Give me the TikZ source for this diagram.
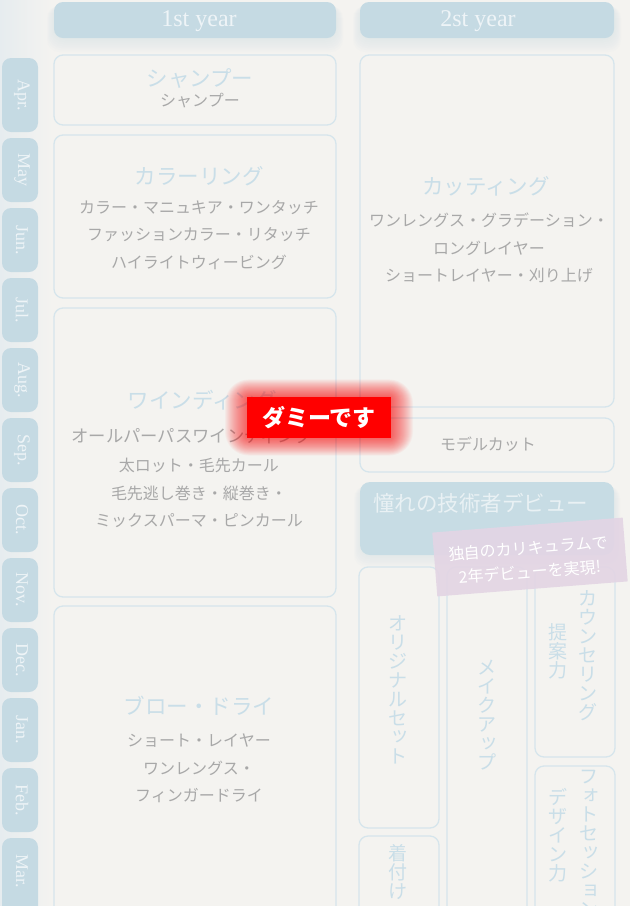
\documentclass[tikz,border=0pt]{standalone}
\usepackage{fontspec}
\setmainfont{Liberation Serif}
\newfontfamily\jp{Noto Sans CJK JP}
\newcommand\smk[1]{\hspace*{0.2em}\raisebox{0.12em}[0pt][0pt]{#1}\hspace*{-0.2em}}
\definecolor{bg}{HTML}{F4F3F0}
\definecolor{band}{HTML}{E6ECEF}
\definecolor{boxline}{HTML}{D6E5EC}
\definecolor{headfill}{HTML}{C5DAE3}
\definecolor{headtext}{HTML}{EEF4F7}
\definecolor{bluetext}{HTML}{C9DEE8}
\definecolor{graytext}{HTML}{A8A8A8}
\definecolor{debutfill}{HTML}{C7DCE4}
\definecolor{debuttext}{HTML}{E9F1F4}
\definecolor{pinkfill}{HTML}{E3D5E4}
\tikzset{
  panel/.style={draw=boxline, line width=1.3pt, rounded corners=9pt, fill=bg},
  headbox/.style={fill=headfill, rounded corners=9pt},
  tabbox/.style={fill=headfill, rounded corners=9pt},
  headlabel/.style={font=\fontsize{24}{24}\selectfont, text=headtext, inner sep=0pt},
  monlabel/.style={font=\fontsize{18}{18}\selectfont, text=headtext, rotate=-90, inner sep=0pt},
  title/.style={font=\jp\fontsize{21.5}{21.5}\selectfont, text=bluetext, inner sep=0pt},
  body/.style={font=\jp\fontsize{16}{27.5}\selectfont, text=graytext, align=center, inner sep=0pt},
  vtext/.style={font=\jp\fontsize{19}{19}\selectfont, text=bluetext, align=center, anchor=north, inner sep=0pt},
}
\begin{document}
\begin{tikzpicture}[x=1pt,y=-1pt]
\path[use as bounding box] (0,0) rectangle (630,906);
\clip (0,0) rectangle (630,906);
\fill[bg] (0,0) rectangle (630,906);
\shade[left color=band, right color=bg] (0,0) rectangle (52,906);

% header soft glow
\foreach \r in {2,4,...,14}{
  \fill[headfill, opacity=0.05, rounded corners=12pt] ({54-\r/2},{6}) rectangle ({336+\r/2},{38+\r});
  \fill[headfill, opacity=0.05, rounded corners=12pt] ({360-\r/2},{6}) rectangle ({614+\r/2},{38+\r});
}
% headers
\fill[headbox] (54,2) rectangle (336,38);
\node[headlabel] (year1) at (199,21) {1st year};
\fill[headbox] (360,2) rectangle (614,38);
\node[headlabel] (year2) at (478,21) {2st year};

% month tabs
\foreach \m/\ya/\yb [count=\i] in {Apr./58/132, May/138/202, Jun./208/272, Jul./278/342, Aug./348/412, Sep./418/482, Oct./488/552, Nov./558/622, Dec./628/692, Jan./698/762, Feb./768/832, Mar./838/930}{
  \fill[tabbox] (2,\ya) rectangle (38,\yb);
  \node[monlabel] (mon\i) at (22,{(\ya+min(\yb,904))/2}) {\m};
}

% left column
\draw[panel] (54,55) rectangle (336,125);
\node[title] (t-shampoo) at (200,79) {シャンプー};
\node[body] (b-shampoo) at (200,101) {シャンプー};

\draw[panel] (54,135) rectangle (336,298);
\node[title] (t-color) at (199,176) {カラーリング};
\node[body] (b-color) at (199,235) {カラー・マニュキア・ワンタッチ\\ファッションカラー・リタッチ\\ハイライトウィービング};

\draw[panel] (54,308) rectangle (336,597);
\node[title] (t-wind) at (202,400) {ワインディング};
\node[body, font=\jp\fontsize{17.3}{17.3}\selectfont] (b-wind1) at (192,436) {オールパーパスワインディング};
\node[body] (b-wind2) at (199,493) {太ロット・毛先カール\\毛先逃し巻き・縦巻き・\\ミックスパーマ・ピンカール};

\draw[panel] (54,606) rectangle (336,930);
\node[title] (t-blow) at (199,706) {ブロー・ドライ};
\node[body] (b-blow) at (199,768.5) {ショート・レイヤー\\ワンレングス・\\フィンガードライ};

% right column
\draw[panel] (360,55) rectangle (614,407);
\node[title] (t-cut) at (486,186) {カッティング};
\node[body] (b-cut) at (489,248) {ワンレングス・グラデーション・\\ロングレイヤー\\ショートレイヤー・刈り上げ};

\draw[panel] (360,418) rectangle (614,472);
\node[body] (b-model) at (488,444) {モデルカット};

% debut box
\foreach \r in {2,4,...,12}{
  \fill[headfill, opacity=0.05, rounded corners=12pt] ({360-\r/2},{486}) rectangle ({614+\r/2},{555+\r});
}
\fill[fill=debutfill, rounded corners=10pt] (360,482) rectangle (614,555);
\node[font=\jp\fontsize{21.5}{21.5}\selectfont, text=debuttext, anchor=west, inner sep=0pt] (debut) at (373,503) {憧れの技術者デビュー};

% bottom right boxes
\draw[panel] (359,567) rectangle (439,828);
\node[vtext] (v-orig) at (398,615) {オ\\リ\\ジ\\ナ\\ル\\セ\\\smk{ッ}\\ト};
\draw[panel] (359,836) rectangle (439,930);
\node[vtext] (v-kitsuke) at (398,844) {着\\付\\け};
\draw[panel] (447,567) rectangle (527,930);
\node[vtext] (v-makeup) at (487,660) {メ\\イ\\ク\\ア\\\smk{ッ}\\プ};
\draw[panel] (535,567) rectangle (615,757);
\node[vtext] (v-counsel) at (588,590) {カ\\ウ\\ン\\セ\\リ\\ン\\グ};
\node[vtext] (v-teian) at (558,623) {提\\案\\力};
\draw[panel] (535,766) rectangle (615,930);
\node[vtext] (v-photo) at (589,770) {フ\\\smk{ォ}\\ト\\セ\\\smk{ッ}\\シ\\\smk{ョ}\\ン};
\node[vtext] (v-design) at (558,788) {デ\\ザ\\イ\\ン\\力};

% slogan
\node[fill=pinkfill, fill opacity=0.92, rotate=4.5, minimum width=191pt, minimum height=64pt, inner sep=0pt] (slogan) at (530,557) {};
\node[rotate=4.5, inner sep=0pt, align=center, text=white, font=\jp\fontsize{16}{24}\selectfont] (slogan-text) at (529,560) {独自のカリキュラムで\\2年デビューを実現!};

% dummy label with glow
\foreach \r in {1,2,...,22}{
  \fill[red, opacity=0.035, rounded corners={\r pt + 2pt}] ({247-\r},{397-\r*0.8}) rectangle ({391+\r},{438+\r*0.8});
}
\node[fill=red, text=white, minimum width=144pt, minimum height=41pt, inner sep=0pt, font=\jp\bfseries\fontsize{23}{23}\selectfont] (dummy) at (319,417.5) {ダミーです};
\end{tikzpicture}
\end{document}
